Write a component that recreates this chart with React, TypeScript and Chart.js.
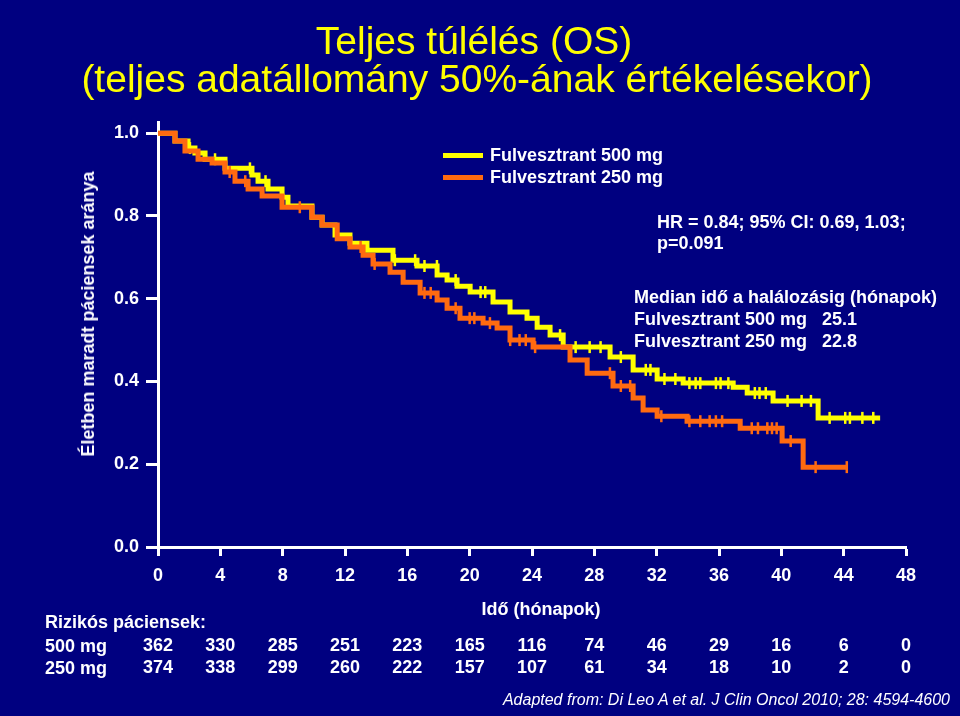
import React, { useEffect, useRef } from "react";
import { Chart, registerables } from "chart.js";

Chart.register(...registerables);

const X_TICKS = [0, 4, 8, 12, 16, 20, 24, 28, 32, 36, 40, 44, 48];
const Y_TICKS = [0, 0.2, 0.4, 0.6, 0.8, 1.0];

// Fulvesztrant 500 mg (yellow) Kaplan-Meier steps
const time500 = [0, 1.09, 1.93, 2.37, 3.02, 4.3, 6.03, 6.42, 7.06, 7.96, 8.34, 9.88, 10.53, 11.36, 12.32, 13.41, 15.08, 16.62, 17.91, 18.55, 19.19, 20.03, 21.5, 22.59, 23.68, 24.33, 25.16, 26.0, 29.01, 30.49, 32.03, 33.7, 36.91, 37.81, 39.47, 42.36, 46.34];
const surv500 = [1.0, 0.981, 0.964, 0.952, 0.937, 0.915, 0.899, 0.884, 0.865, 0.845, 0.824, 0.797, 0.778, 0.754, 0.734, 0.717, 0.693, 0.679, 0.657, 0.645, 0.63, 0.616, 0.592, 0.568, 0.553, 0.531, 0.512, 0.483, 0.459, 0.428, 0.406, 0.396, 0.386, 0.372, 0.353, 0.312, 0.312];

// Fulvesztrant 250 mg (orange) Kaplan-Meier steps
const time250 = [0, 1.09, 1.73, 2.57, 3.47, 4.3, 4.94, 5.78, 6.68, 7.96, 9.88, 10.53, 11.5, 12.32, 13.16, 13.8, 14.89, 15.73, 16.82, 17.91, 18.55, 19.38, 20.86, 21.76, 22.59, 24.07, 26.44, 27.54, 29.2, 30.49, 31.13, 32.03, 33.95, 37.36, 40.05, 41.4, 44.22];
const surv250 = [1.0, 0.981, 0.957, 0.937, 0.928, 0.906, 0.884, 0.865, 0.848, 0.821, 0.797, 0.778, 0.745, 0.725, 0.705, 0.684, 0.664, 0.64, 0.614, 0.597, 0.577, 0.553, 0.541, 0.529, 0.5, 0.483, 0.452, 0.42, 0.389, 0.36, 0.331, 0.316, 0.304, 0.287, 0.256, 0.193, 0.193];

// Censoring times (months)
const censor500 = [2.05, 3.66, 5.9, 6.9, 15.2, 16.5, 17.1, 17.9, 19.1, 20.7, 21.0, 25.8, 26.8, 27.7, 28.4, 29.7, 31.3, 31.6, 32.5, 33.2, 34.1, 34.5, 34.8, 35.8, 36.1, 36.6, 38.3, 38.6, 39.0, 40.4, 41.3, 41.9, 43.1, 44.1, 44.4, 45.2, 45.9];
const censor250 = [4.6, 5.6, 9.1, 13.0, 13.9, 17.1, 17.5, 19.1, 20.0, 20.3, 21.3, 22.6, 23.2, 23.6, 24.2, 29.0, 29.7, 30.3, 32.3, 34.1, 34.8, 35.4, 35.8, 36.2, 38.1, 38.5, 39.1, 39.4, 39.7, 40.6, 42.2, 44.2];

const atRisk500 = [362, 330, 285, 251, 223, 165, 116, 74, 46, 29, 16, 6, 0];
const atRisk250 = [374, 338, 299, 260, 222, 157, 107, 61, 34, 18, 10, 2, 0];

const YELLOW = "#ffff00";
const ORANGE = "#ff6a10";
const BG = "#000080";
const FONT = '"Liberation Sans", Arial, Helvetica, sans-serif';

function stepValue(times: number[], surv: number[], t: number) {
  let v = surv[0];
  for (let i = 0; i < times.length; i++) {
    if (times[i] <= t) v = surv[i];
  }
  return v;
}

const riskPlugin = {
  id: "riskTable",
  afterDraw(chart: any) {
    const ctx = chart.ctx;
    const xs = chart.scales.x;
    ctx.save();
    ctx.fillStyle = "#ffffff";
    ctx.font = `bold 18px ${FONT}`;
    ctx.textAlign = "center";
    ctx.textBaseline = "middle";
    X_TICKS.forEach((t, i) => {
      const px = xs.getPixelForValue(t);
      ctx.fillText(String(atRisk500[i]), px, 646);
      ctx.fillText(String(atRisk250[i]), px, 668);
    });
    ctx.restore();
  },
};

export default function App() {
  const ref = useRef<HTMLCanvasElement | null>(null);

  useEffect(() => {
    document.body.style.margin = "0";
    document.body.style.background = BG;
    const canvas = ref.current;
    if (!canvas) return;
    const line500 = time500.map((t, i) => ({ x: t, y: surv500[i] }));
    const line250 = time250.map((t, i) => ({ x: t, y: surv250[i] }));
    const cens500 = censor500.map((t) => ({ x: t, y: stepValue(time500, surv500, t) }));
    const cens250 = censor250.map((t) => ({ x: t, y: stepValue(time250, surv250, t) }));

    const chart = new Chart(canvas, {
      type: "line",
      data: {
        datasets: [
          {
            label: "Fulvesztrant 250 mg censor",
            data: cens250,
            showLine: false,
            pointStyle: "line",
            pointRotation: 90,
            pointRadius: 6,
            pointBorderWidth: 2.5,
            pointBorderColor: ORANGE,
            borderColor: ORANGE,
          },
          {
            label: "Fulvesztrant 250 mg",
            data: line250,
            stepped: "before",
            borderColor: ORANGE,
            borderWidth: 5,
            pointRadius: 0,
            fill: false,
          },
          {
            label: "Fulvesztrant 500 mg censor",
            data: cens500,
            showLine: false,
            pointStyle: "line",
            pointRotation: 90,
            pointRadius: 6,
            pointBorderWidth: 2.5,
            pointBorderColor: YELLOW,
            borderColor: YELLOW,
          },
          {
            label: "Fulvesztrant 500 mg",
            data: line500,
            stepped: "before",
            borderColor: YELLOW,
            borderWidth: 5,
            pointRadius: 0,
            fill: false,
          },
        ],
      } as any,
      options: {
        animation: false,
        responsive: false,
        devicePixelRatio: 1,
        layout: { padding: { left: 0, top: 122, right: 54, bottom: 0 } },
        plugins: {
          legend: { display: false },
          title: { display: false },
          tooltip: { enabled: false },
        },
        scales: {
          x: {
            type: "linear",
            min: 0,
            max: 48,
            afterFit: (s: any) => {
              s.height = 169;
            },
            afterBuildTicks: (s: any) => {
              s.ticks = X_TICKS.map((v) => ({ value: v }));
            },
            grid: {
              drawOnChartArea: false,
              drawTicks: true,
              tickLength: 9,
              tickWidth: 3,
              color: "#ffffff",
            },
            border: { display: true, color: "#ffffff", width: 3 },
            ticks: {
              color: "#ffffff",
              font: { family: FONT, size: 18, weight: "bold" },
              padding: 9,
              maxRotation: 0,
              autoSkip: false,
            },
          },
          y: {
            type: "linear",
            min: 0,
            max: 1.027,
            afterFit: (s: any) => {
              s.width = 158;
            },
            afterBuildTicks: (s: any) => {
              s.ticks = Y_TICKS.map((v) => ({ value: v }));
            },
            grid: {
              drawOnChartArea: false,
              drawTicks: true,
              tickLength: 12,
              tickWidth: 3,
              color: "#ffffff",
            },
            border: { display: true, color: "#ffffff", width: 3 },
            ticks: {
              color: "#ffffff",
              font: { family: FONT, size: 18, weight: "bold" },
              padding: 7,
              callback: (v: any) => Number(v).toFixed(1),
            },
          },
        },
      },
      plugins: [riskPlugin],
    } as any);
    return () => chart.destroy();
  }, []);

  const txt: React.CSSProperties = {
    position: "absolute",
    color: "#ffffff",
    fontFamily: FONT,
    fontSize: 18,
    fontWeight: "bold",
    whiteSpace: "nowrap",
    lineHeight: "20px",
  };

  return (
    <div style={{ position: "relative", width: 960, height: 716, background: BG, overflow: "hidden" }}>
      <canvas ref={ref} width={960} height={716} style={{ position: "absolute", left: 0, top: 0, width: 960, height: 716 }} />
      <div
        style={{
          position: "absolute",
          left: 0,
          top: 22,
          width: 948,
          textAlign: "center",
          color: YELLOW,
          fontFamily: FONT,
          fontSize: 39,
          lineHeight: "38px",
        }}
      >
        <div>Teljes túlélés (OS)</div>
        <div style={{ marginLeft: 6 }}>(teljes adatállomány 50%-ának értékelésekor)</div>
      </div>
      <div
        style={{
          ...txt,
          left: 88,
          top: 314,
          transform: "translate(-50%, -50%) rotate(-90deg)",
        }}
      >
        Életben maradt páciensek aránya
      </div>
      <div style={{ position: "absolute", left: 443, top: 153, width: 40, height: 5, background: YELLOW }} />
      <div style={{ position: "absolute", left: 443, top: 175, width: 40, height: 5, background: ORANGE }} />
      <div style={{ ...txt, left: 490, top: 145 }}>Fulvesztrant 500 mg</div>
      <div style={{ ...txt, left: 490, top: 167 }}>Fulvesztrant 250 mg</div>
      <div style={{ ...txt, left: 657, top: 212 }}>HR = 0.84; 95% CI: 0.69, 1.03;</div>
      <div style={{ ...txt, left: 657, top: 233 }}>p=0.091</div>
      <div style={{ ...txt, left: 634, top: 287 }}>Median idő a halálozásig (hónapok)</div>
      <div style={{ ...txt, left: 634, top: 309, whiteSpace: "pre" }}>Fulvesztrant 500 mg   25.1</div>
      <div style={{ ...txt, left: 634, top: 331, whiteSpace: "pre" }}>Fulvesztrant 250 mg   22.8</div>
      <div style={{ ...txt, left: 541, top: 599, transform: "translateX(-50%)" }}>Idő (hónapok)</div>
      <div style={{ ...txt, left: 45, top: 612 }}>Rizikós páciensek:</div>
      <div style={{ ...txt, left: 45, top: 636 }}>500 mg</div>
      <div style={{ ...txt, left: 45, top: 658 }}>250 mg</div>
      <div
        style={{
          ...txt,
          right: 10,
          top: 691,
          fontSize: 16,
          fontWeight: "normal",
          fontStyle: "italic",
          lineHeight: "18px",
        }}
      >
        Adapted from: Di Leo A et al. J Clin Oncol 2010; 28: 4594-4600
      </div>
    </div>
  );
}
